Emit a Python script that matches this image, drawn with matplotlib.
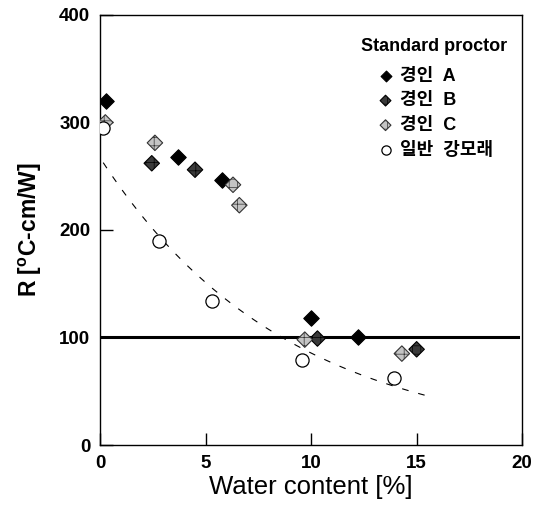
import numpy as np
import matplotlib
matplotlib.use("Agg")
from matplotlib import pyplot as plt

plt.rcParams['font.family'] = ['Liberation Sans', 'Noto Sans CJK KR', 'DejaVu Sans']
plt.rcParams['mathtext.fontset'] = 'custom'
plt.rcParams['mathtext.rm'] = 'Liberation Sans'
plt.rcParams['mathtext.bf'] = 'Liberation Sans:bold'
plt.rcParams['hatch.linewidth'] = 0.5

# 경인 A
a_x = [0.3, 3.7, 5.8, 10.0, 12.2]
a_y = [320, 268, 246, 118, 100]
# 경인 B
b_x = [2.45, 4.5, 10.3, 15.0]
b_y = [262, 256, 99, 89]
# 경인 C
c_x = [0.25, 2.6, 6.3, 6.6, 9.7, 14.3]
c_y = [300, 281, 242, 223, 98, 85]
# 일반 강모래
s_x = [0.15, 2.77, 5.29, 9.56, 13.93]
s_y = [295, 190, 134, 79, 62]

labels = ['경인  A', '경인  B', '경인  C', '일반  강모래']
ref_line = 100

fig = plt.figure(figsize=(5.35, 5.22), dpi=100)
ax = fig.add_axes([0.187, 0.1475, 0.789, 0.824])

# exponential trend of the river sand data
k, b = np.polyfit(s_x, np.log(s_y), 1)
xf = np.linspace(0.15, 15.8, 100)
ax.plot(xf, np.exp(b) * np.exp(k * xf), color='black', lw=0.8,
        dashes=(6, 9), zorder=2)

ax.plot([0, 19.8], [ref_line, ref_line], color='black', lw=2.2, zorder=2)

ms = 62
ax.scatter(a_x, a_y, marker='D', s=ms, c='black', edgecolors='black',
           lw=0.8, label=labels[0], zorder=4)
ax.scatter(b_x, b_y, marker='D', s=ms, c='#3a3a3a', edgecolors='black',
           hatch='++', lw=0.8, label=labels[1], zorder=4)
ax.scatter(c_x, c_y, marker='D', s=ms, c='#c4c4c4', edgecolors='#333333',
           hatch='++', lw=0.8, label=labels[2], zorder=4)
ax.scatter(s_x, s_y, marker='o', s=90, facecolors='white', edgecolors='black',
           lw=0.9, label=labels[3], zorder=5)

ax.set_xlim(0, 20)
ax.set_ylim(0, 400)
ax.set_xticks([0, 5, 10, 15, 20])
ax.set_yticks([0, 100, 200, 300, 400])
ax.tick_params(direction='in', length=9, width=1, labelsize=13.5, pad=7)
for t in ax.get_xticklabels() + ax.get_yticklabels():
    t.set_fontweight('bold')
for s in ax.spines.values():
    s.set_linewidth(1.0)

ax.set_xlabel('Water content [%]', fontsize=18.5, labelpad=2)
ax.set_ylabel(r'R [$\mathbf{^{o}}$C-cm/W]', fontsize=16.5, fontweight='bold',
              labelpad=11)

leg = ax.legend(loc='upper right', bbox_to_anchor=(0.995, 0.975), frameon=False,
                title='Standard proctor', handletextpad=0.25, labelspacing=0.42,
                borderaxespad=0.3, handlelength=1.1, markerscale=0.7,
                prop={'size': 13, 'weight': 'bold'})
leg.get_title().set_fontweight('bold')
leg.get_title().set_fontsize(13)
leg._legend_box.align = 'center'
leg._legend_box.sep = 9

fig.savefig('out.png', dpi=100)
